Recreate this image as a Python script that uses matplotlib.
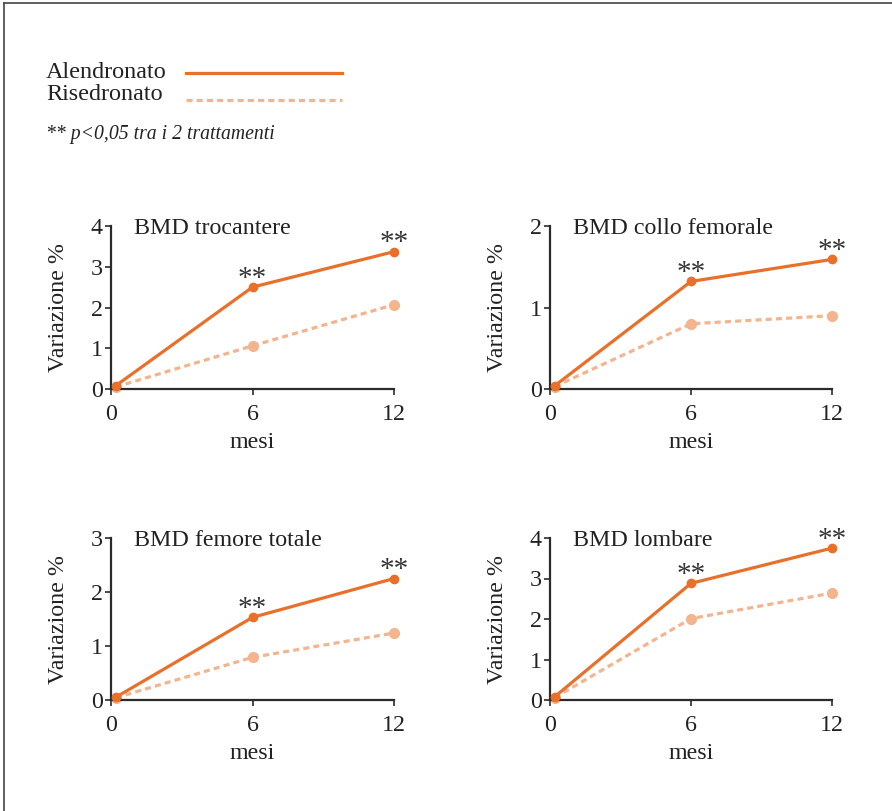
import matplotlib.pyplot as plt
from matplotlib.lines import Line2D

plt.rcParams['font.family'] = ['Liberation Serif', 'DejaVu Serif']

# dati
mesi = [0, 6, 12]
mesi_punti = [0.2, 6, 12]  # il primo punto e' disegnato appena a destra dello 0

titoli = ["BMD trocantere", "BMD collo femorale", "BMD femore totale", "BMD lombare"]
alendronato = [
    [0.08, 2.50, 3.37],
    [0.04, 1.32, 1.59],
    [0.05, 1.53, 2.25],
    [0.08, 2.88, 3.75],
]
risedronato = [
    [0.05, 1.06, 2.07],
    [0.03, 0.80, 0.90],
    [0.04, 0.79, 1.24],
    [0.06, 2.01, 2.64],
]
ymax = [4, 2, 3, 4]
yticks = [[0, 1, 2, 3, 4], [0, 1, 2], [0, 1, 2, 3], [0, 1, 2, 3, 4]]
significativo = [6, 12]  # ** p<0,05

COL_ALN = '#E8702A'
COL_RIS = '#F3B48E'
COL_AX = '#2b2b2b'
COL_TXT = '#222222'
FS = 17.3
W, H = 892, 811

# posizioni assi in pixel (sinistra, basso, destra, alto)
box_px = [
    (111, 389, 394, 226),
    (550, 389, 832, 226),
    (111, 700, 394, 538),
    (550, 700, 832, 538),
]

fig = plt.figure(figsize=(W / 100, H / 100), dpi=100)

for i in range(4):
    x0, yb, x1, yt = box_px[i]
    ax = fig.add_axes([x0 / W, 1 - yb / H, (x1 - x0) / W, (yb - yt) / H])

    ax.plot(mesi_punti, risedronato[i], color=COL_RIS, lw=2.3, ls=(0, (1.9, 1.3)),
            marker='o', ms=7, zorder=2, clip_on=False)
    ax.plot(mesi_punti, alendronato[i], color=COL_ALN, lw=2.3,
            marker='o', ms=6, zorder=3, clip_on=False)

    for m in significativo:
        idx = mesi_punti.index(m)
        ax.annotate('**', (m, alendronato[i][idx]), xytext=(0, 1),
                    textcoords='offset points', ha='center', va='baseline',
                    fontsize=21, color='#333333', annotation_clip=False)

    ax.set_xlim(0, 12)
    ax.set_ylim(0, ymax[i])
    ax.set_xticks(mesi)
    ax.set_yticks(yticks[i])
    ax.spines[['top', 'right']].set_visible(False)
    for s in ['left', 'bottom']:
        ax.spines[s].set_color(COL_AX)
        ax.spines[s].set_linewidth(1.6)
    ax.tick_params(direction='out', length=4.5, width=1.2, color=COL_AX,
                   labelsize=FS, labelcolor=COL_TXT)
    ax.tick_params(axis='y', pad=1.5)
    ax.tick_params(axis='x', pad=6.5)

    ax.set_xlabel('mesi', fontsize=FS, color=COL_TXT, labelpad=4.5)
    ax.set_ylabel('Variazione %', fontsize=FS, color=COL_TXT)
    ax.yaxis.set_label_coords(-0.15, 0.5)
    ax.text(0.08, 0.985, titoli[i], transform=ax.transAxes, fontsize=FS,
            color=COL_TXT, ha='left', va='center')

# legenda
fig.text(46 / W, 1 - 72 / H, 'Alendronato', fontsize=17.4, color=COL_TXT,
         ha='left', va='center')
fig.text(46 / W, 1 - 95 / H, 'Risedronato', fontsize=17.4, color=COL_TXT,
         ha='left', va='center')
fig.add_artist(Line2D([186 / W, 342 / W], [1 - 73 / H, 1 - 73 / H],
                      color=COL_ALN, lw=2.3, transform=fig.transFigure))
fig.add_artist(Line2D([186 / W, 342 / W], [1 - 100 / H, 1 - 100 / H],
                      color=COL_RIS, lw=2.3, ls=(0, (1.9, 1.3)),
                      transform=fig.transFigure))
fig.text(46 / W, 1 - 135 / H, '** p<0,05 tra i 2 trattamenti', fontsize=14.2,
         style='italic', color=COL_TXT, ha='left', va='center')

# cornice (solo lato superiore e sinistro)
fig.add_artist(Line2D([4 / W, 1], [1 - 3 / H, 1 - 3 / H], color='#444444', lw=1.2,
                      transform=fig.transFigure))
fig.add_artist(Line2D([4 / W, 4 / W], [0, 1 - 3 / H], color='#444444', lw=1.2,
                      transform=fig.transFigure))

fig.savefig('out.png', dpi=100)
